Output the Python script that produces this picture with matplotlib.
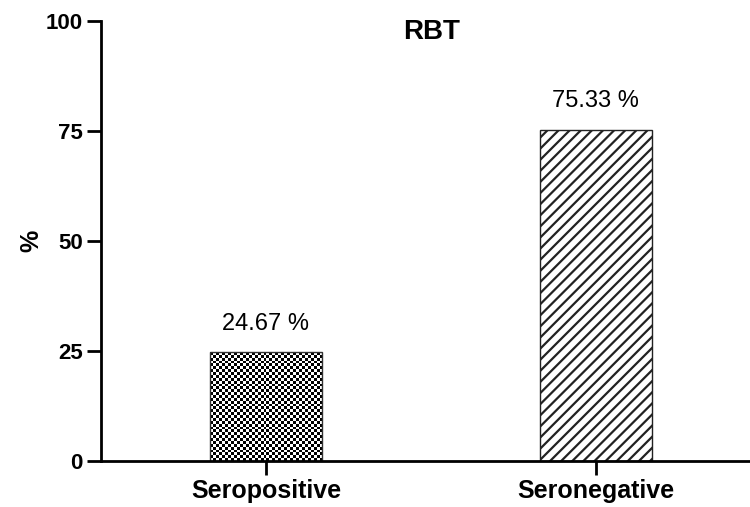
import numpy as np
import matplotlib
matplotlib.use('Agg')
import matplotlib.pyplot as plt

plt.rcParams['font.family'] = ['Liberation Sans', 'DejaVu Sans']
plt.rcParams['hatch.linewidth'] = 1.6

# data
categories = ['Seropositive', 'Seronegative']
values = [24.67, 75.33]
labels = ['24.67 %', '75.33 %']

fig = plt.figure(figsize=(7.5, 5.07), dpi=100)
ax = fig.add_axes([0.1347, 0.0907, 0.8653, 0.8679])

x = np.arange(len(categories))
bars = ax.bar(x, values, width=0.34, color='white', edgecolor='#333333', linewidth=1.0)

# checkerboard fill for the first bar (clipped image)
b0 = bars[0]
n = 38
cb = (np.add.outer(np.arange(n), np.arange(n)) % 2).astype(float)
x0 = b0.get_x()
ax.imshow(cb, cmap='gray', extent=(x0, x0 + b0.get_width(), 0, values[0]),
          aspect='auto', interpolation='nearest', clip_path=b0, zorder=1.5)
b0.set_zorder(2)
b0.set_facecolor('none')

# diagonal hatch for the second bar
bars[1].set_hatch('///')
bars[1].set_edgecolor('#222222')

for xi, v, t in zip(x, values, labels):
    ax.text(xi, v + 6.4, t, ha='center', va='center', fontsize=17)

ax.set_xlim(-0.5, 1.467)
ax.set_ylim(0, 100)
ax.set_yticks([0, 25, 50, 75, 100])
ax.set_xticks(x)
ax.set_xticklabels(categories, fontsize=18, fontweight='bold')
for lab in ax.get_yticklabels():
    lab.set_fontsize(16)
    lab.set_fontweight('bold')
ax.tick_params(axis='y', direction='out', length=10, width=2, pad=3)
ax.tick_params(axis='x', direction='out', length=10, width=2, pad=3)

ax.spines['top'].set_visible(False)
ax.spines['right'].set_visible(False)
ax.spines['left'].set_linewidth(2)
ax.spines['bottom'].set_linewidth(2)

ax.set_ylabel('%', fontsize=18, fontweight='bold', labelpad=2)
ax.text(0.51, 0.975, 'RBT', transform=ax.transAxes, ha='center', va='center',
        fontsize=20, fontweight='bold')

plt.savefig('out.png', dpi=100)
